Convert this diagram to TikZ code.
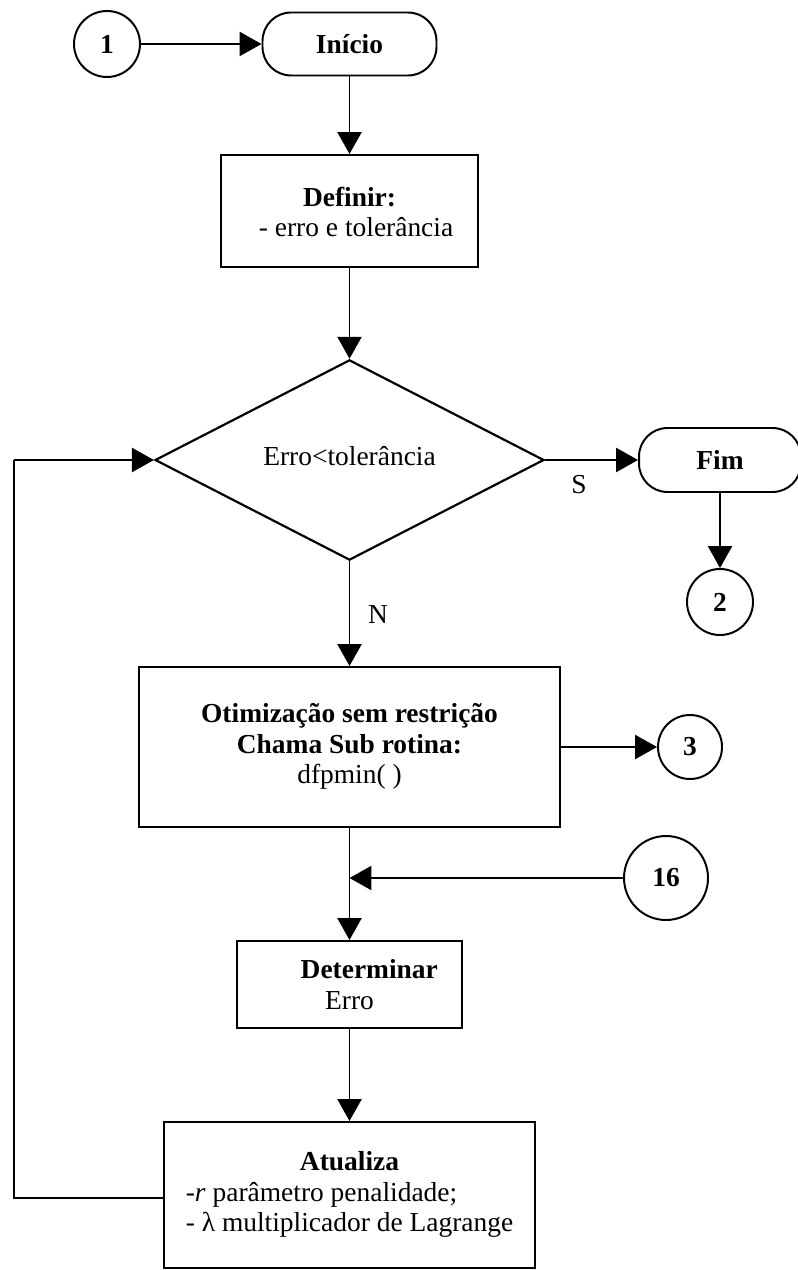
\documentclass[tikz,border=0pt]{standalone}
\usepackage{fontspec}
\setmainfont{Liberation Serif}
\usetikzlibrary{arrows.meta,shapes.geometric}
\newcommand\pxu{0.016cm}
\tikzset{
  every node/.style={font=\fontsize{12.5}{14}\selectfont, inner sep=0pt, align=center},
  stepbox/.style={draw, line width=0.9pt, rectangle},
  termbox/.style={draw, line width=0.9pt, rectangle, rounded corners=13pt},
  decbox/.style={draw, line width=1pt, diamond},
  conn/.style={draw, line width=0.9pt, circle, font=\fontsize{12.5}{14}\selectfont\bfseries},
  flow/.style={line width=0.8pt, -{Triangle[length=10pt,width=11pt]}},
  plain/.style={line width=0.8pt},
}
\begin{document}
\begin{tikzpicture}[x=\pxu, y=-\pxu]
\useasboundingbox (0,0) rectangle (797,1270);

% start connector and terminal
\node[conn, minimum size={66*\pxu}] (c1) at (107,44) {1};
\node[termbox, minimum width={174*\pxu}, minimum height={63*\pxu}] (inicio) at (349.5,44) {\textbf{Início}};

% initial definitions
\node[stepbox, minimum width={257*\pxu}, minimum height={112*\pxu}] (definir) at (349.5,211)
  {\raisebox{-5pt}[0pt][0pt]{\begin{tabular}{@{}c@{}}\textbf{Definir:}\\ \hspace*{6pt}- erro e tolerância\end{tabular}}};

% convergence test
\node[decbox, minimum width={389*\pxu}, minimum height={192*\pxu}] (dec) at (349.5,460)
  {\raisebox{4pt}{Erro<tolerância}};

% end branch
\node[termbox, minimum width={162*\pxu}, minimum height={64*\pxu}] (fim) at (720,460) {\textbf{Fim}};
\node[conn, minimum size={66*\pxu}] (c2) at (720,602) {2};
\node (lblS) at (579,485) {S};
\node (lblN) at (378,615) {N};

% unconstrained optimisation
\node[stepbox, minimum width={421*\pxu}, minimum height={160*\pxu}] (otim) at (349.5,747)
  {\raisebox{6pt}{\begin{tabular}{@{}c@{}}\textbf{Otimização sem restrição}\\ \textbf{Chama Sub rotina:}\\ dfpmin( )\end{tabular}}};
\node[conn, minimum size={64*\pxu}] (c3) at (690,747) {3};

% re-entry connector
\node[conn, minimum size={84*\pxu}] (c16) at (666,878) {16};
\coordinate (merge) at (349.5,878);

% error evaluation
\node[stepbox, minimum width={225*\pxu}, minimum height={87*\pxu}] (determ) at (349.5,984.5)
  {\hspace*{18pt}\textbf{Determinar}\\ Erro};

% parameter update
\node[stepbox, minimum width={371*\pxu}, minimum height={146*\pxu}] (atual) at (349.5,1195)
  {\begin{tabular}{@{}l@{}}\multicolumn{1}{@{}c@{}}{\textbf{Atualiza}}\\ -\textit{r} parâmetro penalidade;\\ - λ multiplicador de Lagrange\end{tabular}};

% loop corners
\coordinate (lb) at (14,1198);
\coordinate (lt) at (14,460);

% connectors
\draw[flow] (c1.east) -- (inicio.west);
\draw[flow] (inicio.south) -- (definir.north);
\draw[flow] (definir.south) -- (dec.north);
\draw[flow] (dec.east) -- (fim.west);
\draw[flow] (fim.south) -- (c2.north);
\draw[flow] (dec.south) -- (otim.north);
\draw[flow] (otim.east) -- (c3.west);
\draw[flow] (otim.south) -- (determ.north);
\draw[flow] (c16.west) -- (merge);
\draw[flow] (determ.south) -- (atual.north);
\draw[plain] (atual.west |- lb) -- (lb) -- (lt);
\draw[flow] (lt) -- (dec.west);
\end{tikzpicture}
\end{document}
